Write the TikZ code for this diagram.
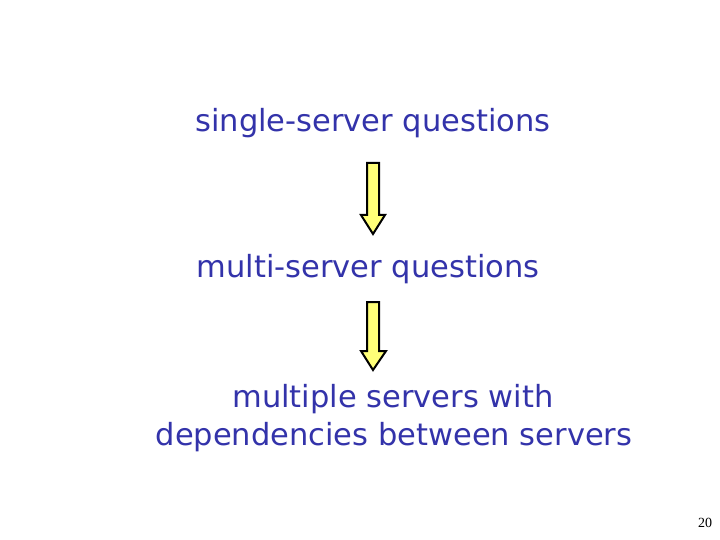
\documentclass[tikz,border=0pt]{standalone}
\usepackage{fontspec}
\setmainfont{DejaVu Sans}
\newfontfamily\numfont{Liberation Serif}
\definecolor{txtblue}{RGB}{51,51,170}
\definecolor{arrfill}{RGB}{255,255,120}
\begin{document}
\begin{tikzpicture}[x=1pt,y=-1pt,
  lbl/.style={text=txtblue,font=\fontsize{30.5}{36}\selectfont,inner sep=0pt,align=center},
  bigarrow/.style={draw=black,line width=2pt,fill=arrfill,line join=miter}]
\useasboundingbox[fill=white] (0,0) rectangle (720,540);
\node[lbl,anchor=base] (q1) at (373,132) {single-server questions};
\node[lbl,anchor=base] (q2) at (368,277) {multi-server questions};
\node[lbl,anchor=base] (q3a) at (393,407) {multiple servers with};
\node[lbl,anchor=base] (q3b) at (394,445) {dependencies between servers};
\draw[bigarrow] (367,163) -- (379,163) -- (379,215) -- (385,215) -- (373,234) -- (361,215) -- (367,215) -- cycle;
\draw[bigarrow] (367,302) -- (379,302) -- (379,351) -- (386,351) -- (373,370) -- (361,351) -- (367,351) -- cycle;
\node[anchor=base,font=\numfont\fontsize{14}{16}\selectfont,inner sep=0pt] (pg) at (705,527) {20};
\end{tikzpicture}
\end{document}
